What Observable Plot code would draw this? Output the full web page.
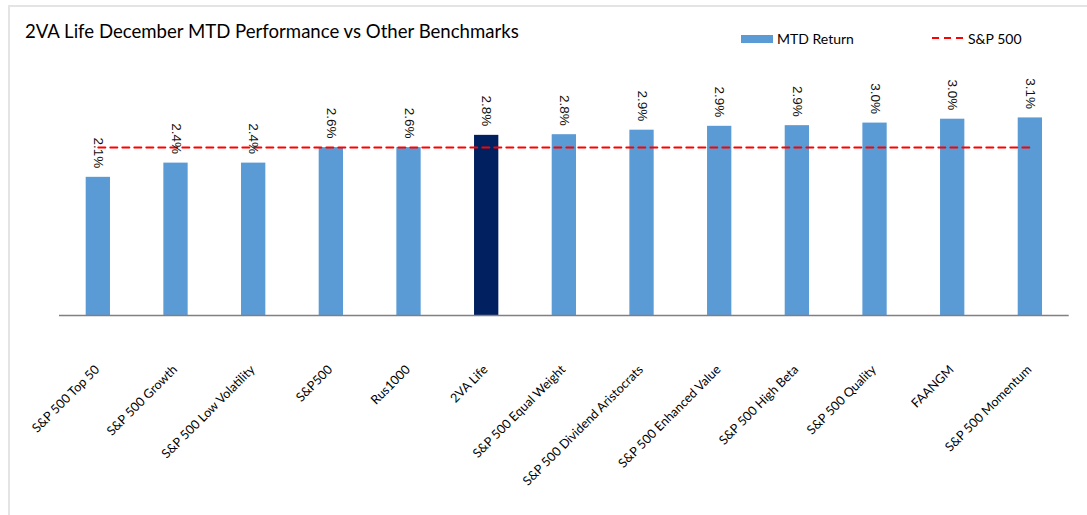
<!DOCTYPE html>
<html>
<head>
<meta charset="utf-8">
<script src="https://cdn.jsdelivr.net/npm/d3@7"></script>
<script src="https://cdn.jsdelivr.net/npm/@observablehq/plot@0.6"></script>
<style>
  html, body { margin: 0; padding: 0; background: #fff; }
  #wrap { position: relative; width: 1087px; height: 515px; overflow: hidden; background: #fff; }
  #frame { position: absolute; left: 8px; top: 5px; width: 1200px; height: 600px;
           border-left: 2px solid #e4e4e4; border-top: 2px solid #e4e4e4; }
  #title { position: absolute; left: 25px; top: 19px; font-family: Lato, sans-serif; font-size: 18.6px;
           color: #000; white-space: nowrap; line-height: 24px; }
  .leg { position: absolute; font-family: Lato, sans-serif; font-size: 14px; color: #000; white-space: nowrap; line-height: 18px; }
  #sw1 { position: absolute; left: 741px; top: 35px; width: 32px; height: 8px; background: #5b9bd5; }
  #plot { position: absolute; left: 0; top: 0; }
</style>
</head>
<body>
<div id="wrap">
  <div id="plot"></div>
  <div id="frame"></div>
  <div id="title">2VA Life December MTD Performance vs Other Benchmarks</div>
  <div id="sw1"></div>
  <div class="leg" style="left:777px; top:30px;">MTD Return</div>
  <svg style="position:absolute; left:930px; top:33px;" width="38" height="10">
    <line x1="2" x2="36" y1="5" y2="5" stroke="#ff0000" stroke-width="2" stroke-dasharray="7,5"></line>
  </svg>
  <div class="leg" style="left:968px; top:30px;">S&amp;P 500</div>
</div>
<script>
const categories = [
  "S&P 500 Top 50", "S&P 500 Growth", "S&P 500 Low Volatility", "S&P500", "Rus1000",
  "2VA Life", "S&P 500 Equal Weight", "S&P 500 Dividend Aristocrats", "S&P 500 Enhanced Value",
  "S&P 500 High Beta", "S&P 500 Quality", "FAANGM", "S&P 500 Momentum"
];
const mtdReturn = [2.14, 2.36, 2.36, 2.60, 2.60, 2.79, 2.80, 2.87, 2.93, 2.94, 2.98, 3.04, 3.06];
const sp500Benchmark = 2.60;
const highlight = "2VA Life";
const seriesNames = ["MTD Return", "S&P 500"];

const data = categories.map((name, i) => ({name, value: mtdReturn[i]}));
const lineData = categories.map(name => ({name, value: sp500Benchmark}));

const chart = Plot.plot({
  width: 1087,
  height: 515,
  marginLeft: 59,
  marginRight: 18.3,
  marginTop: 89,
  marginBottom: 200,
  style: {background: "transparent", overflow: "visible"},
  x: {domain: categories, paddingInner: 0.687, paddingOuter: 0.3435, round: false, axis: null},
  y: {domain: [0, 3.5], axis: null},
  marks: [
    Plot.barY(data, {x: "name", y: "value", fill: "#5b9bd5", filter: d => d.name !== highlight}),
    Plot.barY(data, {x: "name", y: "value", fill: "#002060", filter: d => d.name === highlight}),
    Plot.ruleY([0], {stroke: "#808080", strokeWidth: 1.5}),
    Plot.line(lineData, {x: "name", y: "value", stroke: "#ff0000", strokeWidth: 2, strokeDasharray: "7,5"}),
    Plot.text(data, {
      x: "name", y: "value", text: d => d.value.toFixed(1) + "%",
      rotate: 90, textAnchor: "end", lineAnchor: "middle", dy: -9,
      fontFamily: "Liberation Sans, Arial, sans-serif", fontSize: 13.5, fill: "#111"
    }),
    Plot.text(categories, {
      x: d => d, frameAnchor: "bottom", text: d => d,
      rotate: -45, textAnchor: "end", lineAnchor: "middle", dy: 52, dx: -1,
      fontFamily: "Lato, sans-serif", fontSize: 12.6, fill: "#000"
    })
  ]
});
document.getElementById("plot").appendChild(chart);
</script>
</body>
</html>
